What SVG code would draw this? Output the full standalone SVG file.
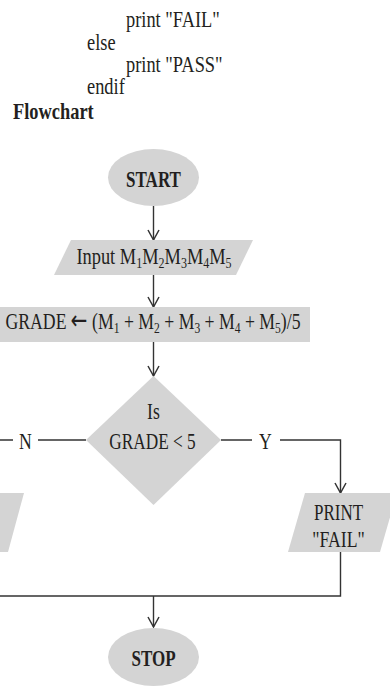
<svg xmlns="http://www.w3.org/2000/svg" width="390" height="686" viewBox="0 0 390 686">
<style>
.t{font-family:"Liberation Serif","Times New Roman",serif;font-size:23px;fill:#231f20}
.h{font-size:23px}
.b{font-weight:bold}
.m{text-anchor:middle}
.sub{font-size:15px}
.ar{font-family:"DejaVu Sans",sans-serif;font-size:26px}
.shape{fill:#d4d4d4;stroke:none}
.ln{fill:none;stroke:#333;stroke-width:1.4}
</style>
<defs>
<marker id="arr" markerUnits="userSpaceOnUse" markerWidth="14" markerHeight="14" viewBox="-12 -7 14 14" refX="0" refY="0" orient="auto">
<path d="M-10,-5.5 L0,0 L-10,5.5" fill="none" stroke="#333" stroke-width="1.5"/>
</marker>
</defs>
<rect width="390" height="686" fill="#fff"/>
<g id="code">
<text class="t h" transform="translate(126,27.3) scale(0.8,1)">print "FAIL"</text>
<text class="t h" transform="translate(87,50) scale(0.8,1)">else</text>
<text class="t h" transform="translate(126,71.7) scale(0.8,1)">print "PASS"</text>
<text class="t h" transform="translate(87,94.3) scale(0.8,1)">endif</text>
<text class="t h b" transform="translate(13,119.3) scale(0.8,1)">Flowchart</text>
</g>
<g id="connectors">
<path class="ln" d="M153.5,206 V240" marker-end="url(#arr)"/>
<path class="ln" d="M153.5,275 V307" marker-end="url(#arr)"/>
<path class="ln" d="M153.5,342 V376" marker-end="url(#arr)"/>
<path class="ln" d="M86,440 H38 M13,440 H0"/>
<text class="t m" transform="translate(25.5,449) scale(0.77,1)">N</text>
<path class="ln" d="M221,440 H252 M280,440 H340.5 V493" marker-end="url(#arr)"/>
<text class="t m" transform="translate(265.5,449) scale(0.77,1)">Y</text>
<path class="ln" d="M340.5,552 V596 H0"/>
<path class="ln" d="M153.5,596 V627" marker-end="url(#arr)"/>
</g>
<g id="start">
<ellipse class="shape" cx="153.5" cy="177.5" rx="45.5" ry="28.5"/>
<text class="t b m" transform="translate(153.5,186.5) scale(0.74,1)">START</text>
</g>
<g id="input">
<polygon class="shape" points="71,240 253,240 236,275 54,275"/>
<text class="t m" transform="translate(154,263.5) scale(0.8,1)">Input M<tspan class="sub" dy="4">1</tspan><tspan dy="-4">M</tspan><tspan class="sub" dy="4">2</tspan><tspan dy="-4">M</tspan><tspan class="sub" dy="4">3</tspan><tspan dy="-4">M</tspan><tspan class="sub" dy="4">4</tspan><tspan dy="-4">M</tspan><tspan class="sub" dy="4">5</tspan></text>
</g>
<g id="grade">
<rect class="shape" x="0" y="307" width="310" height="35"/>
<text class="t m" transform="translate(153,328.5) scale(0.77,1)">GRADE <tspan class="ar">←</tspan> (M<tspan class="sub" dy="4">1</tspan><tspan dy="-4"> + M</tspan><tspan class="sub" dy="4">2</tspan><tspan dy="-4"> + M</tspan><tspan class="sub" dy="4">3</tspan><tspan dy="-4"> + M</tspan><tspan class="sub" dy="4">4</tspan><tspan dy="-4"> + M</tspan><tspan class="sub" dy="4">5</tspan><tspan dy="-4">)/5</tspan></text>
</g>
<g id="decision">
<polygon class="shape" points="153.5,376 221,440 153.5,505 86,440"/>
<text class="t m" transform="translate(153.5,419.3) scale(0.77,1)">Is</text>
<text class="t m" transform="translate(152.5,449) scale(0.75,1)">GRADE &lt; 5</text>
</g>
<g id="print-pass">
<polygon class="shape" points="-200,493 24,493 8,552 -200,552"/>
</g>
<g id="print-fail">
<polygon class="shape" points="305,493 397,493 380,552 288,552"/>
<text class="t m" transform="translate(338.5,520) scale(0.74,1)">PRINT</text>
<text class="t m" transform="translate(338.5,546.5) scale(0.77,1)">"FAIL"</text>
</g>
<g id="stop">
<ellipse class="shape" cx="153.5" cy="657" rx="45.5" ry="29"/>
<text class="t b m" transform="translate(153.5,665.7) scale(0.74,1)">STOP</text>
</g>
</svg>
